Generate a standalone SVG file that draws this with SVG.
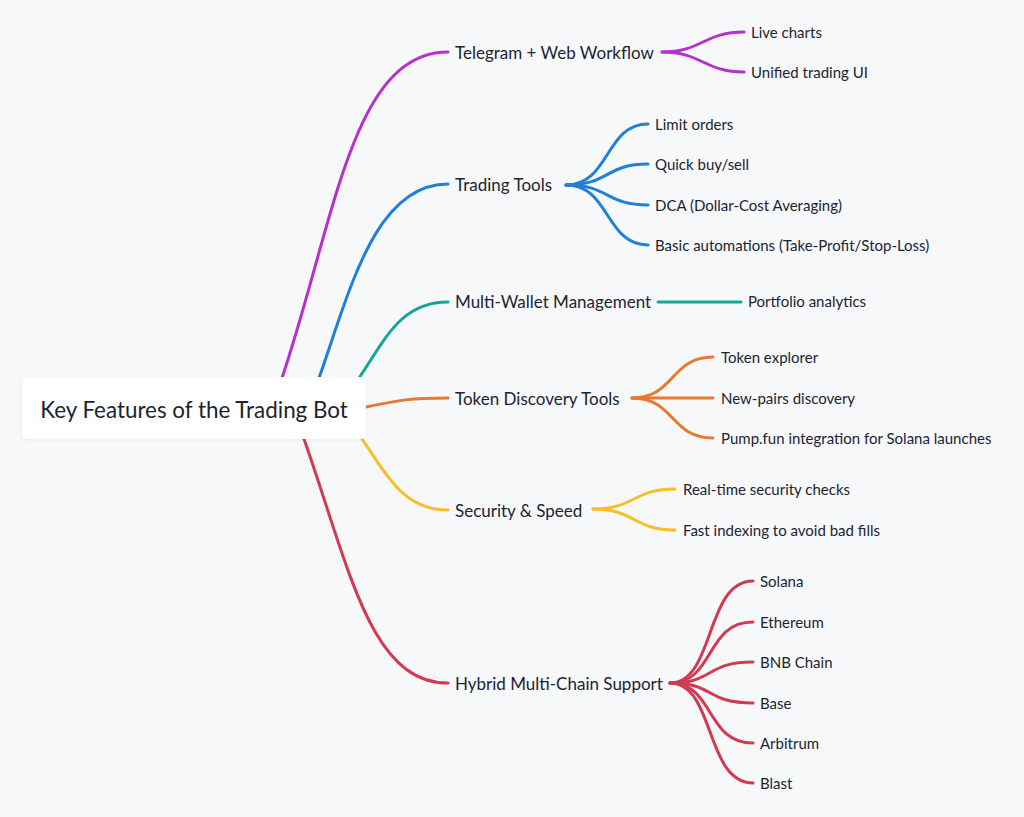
<svg xmlns="http://www.w3.org/2000/svg" width="1024" height="817" viewBox="0 0 1024 817">
<defs>
<filter id="sh" x="-10%" y="-20%" width="120%" height="150%">
<feDropShadow dx="0" dy="1" stdDeviation="1.5" flood-color="#000" flood-opacity="0.06"/>
</filter>
</defs>
<style>
.c{fill:none;stroke-width:3;stroke-linecap:round}
.p{stroke:#b82fcf}.b{stroke:#1f80d8}.t{stroke:#14a697}.o{stroke:#e8792f}.y{stroke:#f6bf26}.r{stroke:#d33a52}
text{font-family:Lato,"Noto Sans",sans-serif;fill:#1b2433;dominant-baseline:central}
.br{font-size:17px}
.lf{font-size:15px}
.rt{font-size:22.4px}
</style>
<rect width="1024" height="817" fill="#f7f8fa"/>
<g id="connectors">
<path class="c p" d="M282,378 C335,220 352,52 448,52"/>
<path class="c b" d="M319,378 C350,290 375,184 448,184"/>
<path class="c t" d="M359,378 C385,340 400,302 448,302"/>
<path class="c o" d="M366,407 C400,400 410,398 448,398"/>
<path class="c y" d="M362,439 C390,480 405,510 448,510"/>
<path class="c r" d="M304,439 C350,570 370,683 448,683"/>

<path class="c p" d="M662,52 C702,52 704,32 744,32"/>
<path class="c p" d="M662,52 C702,52 704,72 744,72"/>

<path class="c b" d="M566,185 C610,185 605,124 648,124"/>
<path class="c b" d="M566,185 C610,185 605,164 648,164"/>
<path class="c b" d="M566,185 C610,185 605,205 648,205"/>
<path class="c b" d="M566,185 C610,185 605,245 648,245"/>

<path class="c t" d="M658,302 H741"/>

<path class="c o" d="M632,398 C675,398 670,357 713,357"/>
<path class="c o" d="M632,398 H713"/>
<path class="c o" d="M632,398 C675,398 670,438 713,438"/>

<path class="c y" d="M593,509 C635,509 633,489 675,489"/>
<path class="c y" d="M593,509 C635,509 633,530 675,530"/>

<path class="c r" d="M670,683 C715,683 705,581 753,581"/>
<path class="c r" d="M670,683 C715,683 705,622 753,622"/>
<path class="c r" d="M670,683 C715,683 705,662 753,662"/>
<path class="c r" d="M670,683 C715,683 705,703 753,703"/>
<path class="c r" d="M670,683 C715,683 705,743 753,743"/>
<path class="c r" d="M670,683 C715,683 705,783 753,783"/>
</g>
<g id="root">
<rect x="22" y="377" width="344" height="62" rx="5" fill="#fff" filter="url(#sh)"/>
<text class="rt" x="194" y="409" text-anchor="middle">Key Features of the Trading Bot</text>
</g>
<g id="telegram">
<text class="br" x="455" y="52">Telegram + Web Workflow</text>
<text class="lf" x="751" y="32">Live charts</text>
<text class="lf" x="751" y="72">Unified trading UI</text>
</g>
<g id="trading">
<text class="br" x="455" y="184">Trading Tools</text>
<text class="lf" x="655" y="124">Limit orders</text>
<text class="lf" x="655" y="164">Quick buy/sell</text>
<text class="lf" x="655" y="205">DCA (Dollar-Cost Averaging)</text>
<text class="lf" x="655" y="245">Basic automations (Take-Profit/Stop-Loss)</text>
</g>
<g id="wallet">
<text class="br" x="455" y="301">Multi-Wallet Management</text>
<text class="lf" x="748" y="301">Portfolio analytics</text>
</g>
<g id="token">
<text class="br" x="455" y="398">Token Discovery Tools</text>
<text class="lf" x="721" y="357">Token explorer</text>
<text class="lf" x="721" y="398">New-pairs discovery</text>
<text class="lf" x="721" y="438">Pump.fun integration for Solana launches</text>
</g>
<g id="security">
<text class="br" x="455" y="510">Security &amp; Speed</text>
<text class="lf" x="683" y="489">Real-time security checks</text>
<text class="lf" x="683" y="530">Fast indexing to avoid bad fills</text>
</g>
<g id="chains">
<text class="br" x="455" y="683">Hybrid Multi-Chain Support</text>
<text class="lf" x="760" y="581">Solana</text>
<text class="lf" x="760" y="622">Ethereum</text>
<text class="lf" x="760" y="662">BNB Chain</text>
<text class="lf" x="760" y="703">Base</text>
<text class="lf" x="760" y="743">Arbitrum</text>
<text class="lf" x="760" y="783">Blast</text>
</g>
</svg>
